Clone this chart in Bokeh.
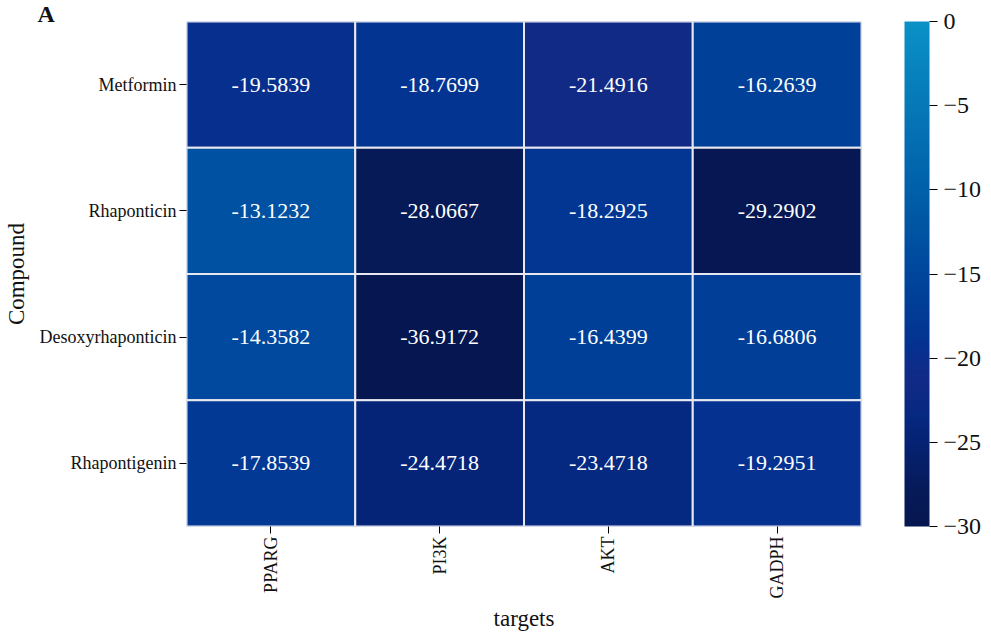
import numpy as np
from bokeh.plotting import figure
from bokeh.models import (ColumnDataSource, LinearColorMapper, ColorBar, FixedTicker,
                          CustomJSTickFormatter, FactorRange)
from bokeh.core.properties import value
from bokeh.transform import transform
from bokeh.embed import file_html
from bokeh.resources import INLINE

# Docking scores (binding energy) of each compound against each target
compounds = ["Metformin", "Rhaponticin", "Desoxyrhaponticin", "Rhapontigenin"]
targets = ["PPARG", "PI3K", "AKT", "GADPH"]
scores = [
    [-19.5839, -18.7699, -21.4916, -16.2639],
    [-13.1232, -28.0667, -18.2925, -29.2902],
    [-14.3582, -36.9172, -16.4399, -16.6806],
    [-17.8539, -24.4718, -23.4718, -19.2951],
]
bar_ticks = [-30, -25, -20, -15, -10, -5, 0]

# Blue colour scale: anchor stops (position 0 = -30, 1 = 0)
stops = [
    (0.000, (6, 22, 80)),
    (0.067, (6, 26, 88)),
    (0.183, (5, 36, 120)),
    (0.217, (5, 40, 128)),
    (0.283, (17, 42, 134)),
    (0.317, (14, 44, 138)),
    (0.350, (6, 48, 143)),
    (0.400, (2, 56, 148)),
    (0.450, (0, 63, 152)),
    (0.517, (0, 72, 158)),
    (0.567, (0, 81, 161)),
    (0.667, (0, 96, 169)),
    (0.833, (6, 120, 184)),
    (1.000, (10, 145, 198)),
]
palette = []
for t in np.linspace(0, 1, 256):
    for (p0, c0), (p1, c1) in zip(stops[:-1], stops[1:]):
        if p0 <= t <= p1:
            f = (t - p0) / (p1 - p0) if p1 > p0 else 0
            rgb = [int(round(a + (b - a) * f)) for a, b in zip(c0, c1)]
            palette.append("#%02x%02x%02x" % tuple(rgb))
            break

xs, ys, vals, labels = [], [], [], []
for i, comp in enumerate(compounds):
    for j, tgt in enumerate(targets):
        xs.append(tgt)
        ys.append(comp)
        vals.append(scores[i][j])
        labels.append("%.4f" % scores[i][j])
source = ColumnDataSource(dict(x=xs, y=ys, v=vals, label=labels))

mapper = LinearColorMapper(palette=palette, low=-30, high=0)

SERIF = "Liberation Serif"

p = figure(width=991, height=633, title="A",
           x_range=FactorRange(*targets, range_padding=0),
           y_range=FactorRange(*reversed(compounds), range_padding=0),
           output_backend="svg", toolbar_location=None,
           min_border_left=186, min_border_top=21, min_border_bottom=107,
           min_border_right=130)

p.rect(x="x", y="y", width=1, height=1, source=source,
       fill_color=transform("v", mapper), line_color="#e8e8f0", line_width=2)
p.text(x="x", y="y", text="label", source=source, text_color="white",
       text_align="center", text_baseline="middle",
       text_font=value(SERIF), text_font_size="22px")

# Panel letter in the upper-left corner
p.title.align = "left"
p.title.offset = -149
p.title.text_font = SERIF
p.title.text_font_style = "bold"
p.title.text_font_size = "24px"
p.title.text_color = "#111111"
p.title.text_line_height = 0.7
p.title.standoff = -10

p.outline_line_color = None
p.xgrid.visible = False
p.ygrid.visible = False
p.background_fill_color = "white"
p.border_fill_color = "white"

for ax in (p.xaxis[0], p.yaxis[0]):
    ax.axis_line_color = None
    ax.major_tick_in = 0
    ax.major_tick_out = 7
    ax.major_tick_line_color = "black"
    ax.minor_tick_line_color = None
    ax.major_label_text_font = SERIF
    ax.major_label_text_font_size = "18px"
    ax.major_label_text_color = "#111111"
    ax.axis_label_text_font = SERIF
    ax.axis_label_text_font_size = "23px"
    ax.axis_label_text_font_style = "normal"
    ax.axis_label_text_color = "#111111"

p.xaxis.axis_label = "targets"
p.xaxis.major_label_orientation = np.pi / 2
p.xaxis.major_label_standoff = 3
p.xaxis.axis_label_standoff = 4
p.yaxis.axis_label = "Compound"
p.yaxis.major_label_standoff = 3
p.yaxis.axis_label_standoff = 8

color_bar = ColorBar(color_mapper=mapper, width=25, height=505,
                     ticker=FixedTicker(ticks=bar_ticks),
                     formatter=CustomJSTickFormatter(
                         code="return tick < 0 ? '\\u2212' + Math.abs(tick) : String(tick);"),
                     major_tick_in=0, major_tick_out=8,
                     major_tick_line_color="black",
                     bar_line_color=None, border_line_color=None,
                     background_fill_color=None,
                     major_label_text_font=SERIF,
                     major_label_text_font_size="24px",
                     major_label_text_color="#111111",
                     label_standoff=6, padding=0, margin=0,
                     location=(43, 0))
p.add_layout(color_bar, "right")

open("out.html", "w").write(file_html(p, INLINE))
